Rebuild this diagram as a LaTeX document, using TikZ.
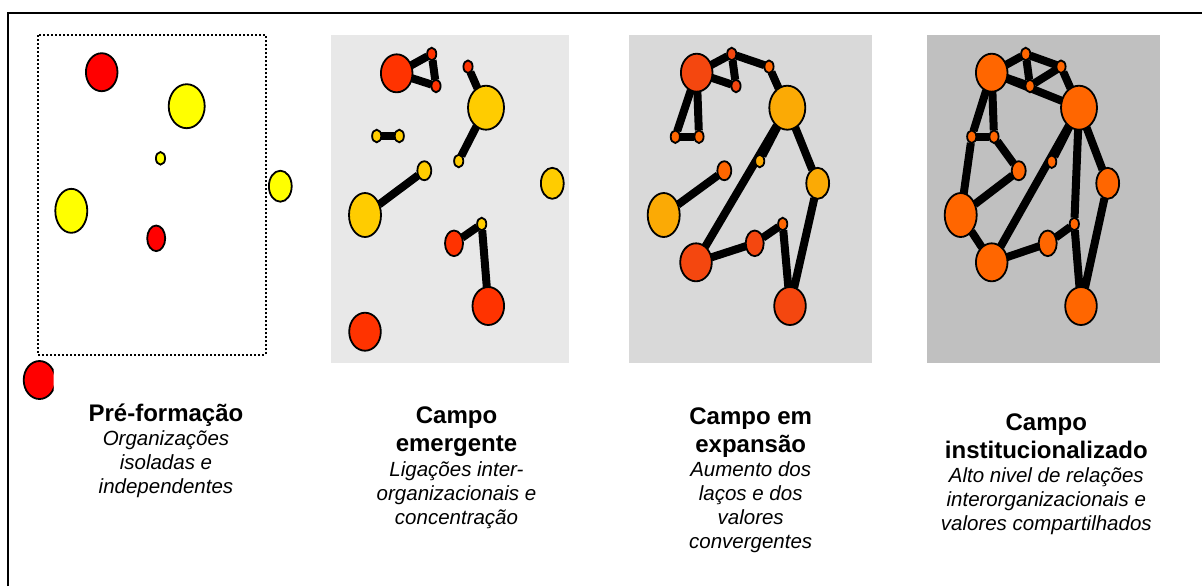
\documentclass[tikz,border=0pt]{standalone}
\usepackage{fontspec}
\setmainfont{Liberation Sans}
\usetikzlibrary{shapes.geometric}

\pgfdeclarelayer{bg}
\pgfdeclarelayer{links}
\pgfsetlayers{bg,links,main}

\definecolor{redA}{HTML}{FF0000}
\definecolor{yelA}{HTML}{FFFF00}
\definecolor{redB}{HTML}{FF3300}
\definecolor{yelB}{HTML}{FFCC00}
\definecolor{redC}{HTML}{F4470F}
\definecolor{yelC}{HTML}{FBAA05}
\definecolor{orgC}{HTML}{FF6600}
\definecolor{grayB}{HTML}{E8E8E8}
\definecolor{grayC}{HTML}{D9D9D9}
\definecolor{grayD}{HTML}{C0C0C0}

\tikzset{
  org/.style={ellipse, draw=black, line width=0.9pt, inner sep=0pt, outer sep=0pt},
  orgxs/.style={org, minimum width=4.6pt, minimum height=6.3pt},
  orgs/.style={org, minimum width=7pt, minimum height=9.5pt},
  orgm/.style={org, minimum width=9pt, minimum height=12.8pt},
  orgr/.style={org, minimum width=11.4pt, minimum height=15.5pt},
  orgl/.style={org, minimum width=15.8pt, minimum height=19pt},
  orgxl/.style={org, minimum width=16pt, minimum height=22pt},
  orgxxl/.style={org, minimum width=18pt, minimum height=22pt},
  link/.style={line width=4pt},
  title/.style={align=center, anchor=north, inner sep=0pt, font=\fontsize{12}{14}\selectfont\bfseries},
  desc/.style={align=center, anchor=north, inner sep=0pt, font=\fontsize{10.25}{12}\selectfont\itshape},
}

\begin{document}
\begin{tikzpicture}[x=0.5pt,y=-0.5pt]
\useasboundingbox (0,0) rectangle (1202,586);
\draw[line width=1.15pt] (7.7,586) -- (7.7,13.2) -- (1202,13.2);

% panels
\begin{pgfonlayer}{bg}
\draw[line width=1pt, dash pattern=on 1pt off 1pt] (38.3,35) rectangle (265.7,355);
\fill[grayB] (331,35) rectangle (569,362.7);
\fill[grayC] (629,35) rectangle (871.7,362.7);
\fill[grayD] (927,35) rectangle (1160,362.7);
\end{pgfonlayer}

% pre-formacao
\node[orgl, fill=redA] (pre-a) at (101.7,72.2) {};
\node[orgxxl, fill=yelA] (pre-b) at (186.7,106.2) {};
\node[orgxs, fill=yelA] (pre-c) at (160.5,158.3) {};
\node[orgr, fill=yelA] (pre-d) at (280.3,186.2) {};
\node[orgxl, fill=yelA] (pre-e) at (71.3,210.8) {};
\node[orgm, fill=redA] (pre-f) at (156.2,238.3) {};
\begin{scope}
\clip (0,340) rectangle (53.5,420);
\node[orgl, fill=redA] (pre-g) at (39.5,380) {};
\end{scope}

% campo emergente
\node[orgl, fill=redB] (em-a) at (396.7,73.3) {};
\node[orgxs, fill=redB] (em-b) at (431.7,54) {};
\node[orgxs, fill=redB] (em-c) at (436,86) {};
\node[orgxs, fill=redB] (em-d) at (468,66.7) {};
\node[orgxxl, fill=yelB] (em-e) at (486,107.7) {};
\node[orgxs, fill=yelB] (em-f) at (376.7,136) {};
\node[orgxs, fill=yelB] (em-g) at (399.3,136) {};
\node[orgxs, fill=yelB] (em-h) at (458.7,161) {};
\node[orgs, fill=yelB] (em-i) at (424.3,170.7) {};
\node[orgxl, fill=yelB] (em-j) at (365,215) {};
\node[orgr, fill=yelB] (em-k) at (552.3,183.3) {};
\node[orgxs, fill=yelB] (em-l) at (481.7,224) {};
\node[orgm, fill=redB] (em-m) at (454,243.3) {};
\node[orgl, fill=redB] (em-n) at (488.3,306) {};
\node[orgl, fill=redB] (em-o) at (365,331.7) {};

\begin{pgfonlayer}{links}
\path[link] (em-a) edge (em-b) edge (em-c);
\path[link] (em-b) edge (em-c);
\path[link] (em-d) edge (em-e);
\path[link] (em-e) edge (em-h);
\path[link] (em-f) edge (em-g);
\path[link] (em-j) edge (em-i);
\path[link] (em-l) edge (em-m) edge (em-n);
\end{pgfonlayer}

% campo em expansao
\node[orgl, fill=redC] (ex-a) at (696.7,72.7) {};
\node[orgxs, fill=redC] (ex-b) at (731.7,54) {};
\node[orgxs, fill=redC] (ex-c) at (736,86) {};
\node[orgxs, fill=orgC] (ex-d) at (769,66.7) {};
\node[orgxxl, fill=yelC] (ex-e) at (787.3,107.7) {};
\node[orgxs, fill=orgC] (ex-f) at (675.3,136.7) {};
\node[orgxs, fill=orgC] (ex-g) at (699,136.7) {};
\node[orgxs, fill=yelC] (ex-h) at (759.7,161) {};
\node[orgs, fill=orgC] (ex-i) at (724.3,170.7) {};
\node[orgxl, fill=yelC] (ex-j) at (663.7,215) {};
\node[orgr, fill=yelC] (ex-k) at (817.7,183.3) {};
\node[orgxs, fill=orgC] (ex-l) at (782.7,224) {};
\node[orgm, fill=redC] (ex-m) at (754.7,243.3) {};
\node[orgl, fill=redC] (ex-p) at (696,262.3) {};
\node[orgl, fill=redC] (ex-n) at (790,306) {};

\begin{pgfonlayer}{links}
\path[link] (ex-a) edge (ex-b) edge (ex-c) edge (ex-f) edge (ex-g);
\path[link] (ex-b) edge (ex-c) edge (ex-d);
\path[link] (ex-d) edge (ex-e);
\path[link] (ex-f) edge (ex-g);
\path[link] (ex-e) edge (ex-h) edge (ex-p) edge (ex-k);
\path[link] (ex-k) edge (ex-n);
\path[link] (ex-j) edge (ex-i);
\path[link] (ex-p) edge (ex-m);
\path[link] (ex-m) edge (ex-l);
\path[link] (ex-l) edge (ex-n);
\end{pgfonlayer}

% campo institucionalizado
\node[orgl, fill=orgC] (in-a) at (991.7,72.7) {};
\node[orgxs, fill=orgC] (in-b) at (1025.7,54) {};
\node[orgxs, fill=orgC] (in-c) at (1030,86) {};
\node[orgxs, fill=orgC] (in-d) at (1061,66.7) {};
\node[orgxxl, fill=orgC] (in-e) at (1079,107.7) {};
\node[orgxs, fill=orgC] (in-f) at (971.7,136.7) {};
\node[orgxs, fill=orgC] (in-g) at (994,136.7) {};
\node[orgxs, fill=orgC] (in-h) at (1051.7,161.7) {};
\node[orgs, fill=orgC] (in-i) at (1018.7,170.7) {};
\node[orgxl, fill=orgC] (in-j) at (960.7,215) {};
\node[orgr, fill=orgC] (in-k) at (1107.7,183.3) {};
\node[orgxs, fill=orgC] (in-l) at (1074.3,224) {};
\node[orgm, fill=orgC] (in-m) at (1047.7,243.3) {};
\node[orgl, fill=orgC] (in-p) at (991.7,262.3) {};
\node[orgl, fill=orgC] (in-n) at (1081,306) {};

\begin{pgfonlayer}{links}
\path[link] (in-a) edge (in-b) edge (in-c) edge (in-e) edge (in-f) edge (in-g);
\path[link] (in-b) edge (in-c) edge (in-d);
\path[link] (in-c) edge (in-d);
\path[link] (in-d) edge (in-e);
\path[link] (in-f) edge (in-g) edge (in-j);
\path[link] (in-g) edge (in-i);
\path[link] (in-i) edge (in-j);
\path[link] (in-j) edge (in-p);
\path[link] (in-e) edge (in-h) edge (in-p) edge (in-k) edge (in-l);
\path[link] (in-l) edge (in-n) edge (in-m);
\path[link] (in-k) edge (in-n);
\path[link] (in-p) edge (in-m);
\end{pgfonlayer}

% captions
\node[title] (t-pre) at (166,401) {\strut Pré-formação};
\node[desc] (d-pre) at (166,428.2) {\strut Organizações\\isoladas e\\independentes};
\node[title] (t-em) at (456.5,403.5) {\strut Campo\\emergente};
\node[desc] (d-em) at (456.5,459) {\strut Ligações inter-\\organizacionais e\\concentração};
\node[title] (t-ex) at (750.7,404.5) {\strut Campo em\\expansão};
\node[desc] (d-ex) at (750.7,459) {\strut Aumento dos\\laços e dos\\valores\\convergentes};
\node[title] (t-in) at (1046.3,410) {\strut Campo\\institucionalizado};
\node[desc] (d-in) at (1046.3,465.5) {\strut Alto nivel de relações\\interorganizacionais e\\valores compartilhados};
\end{tikzpicture}
\end{document}
